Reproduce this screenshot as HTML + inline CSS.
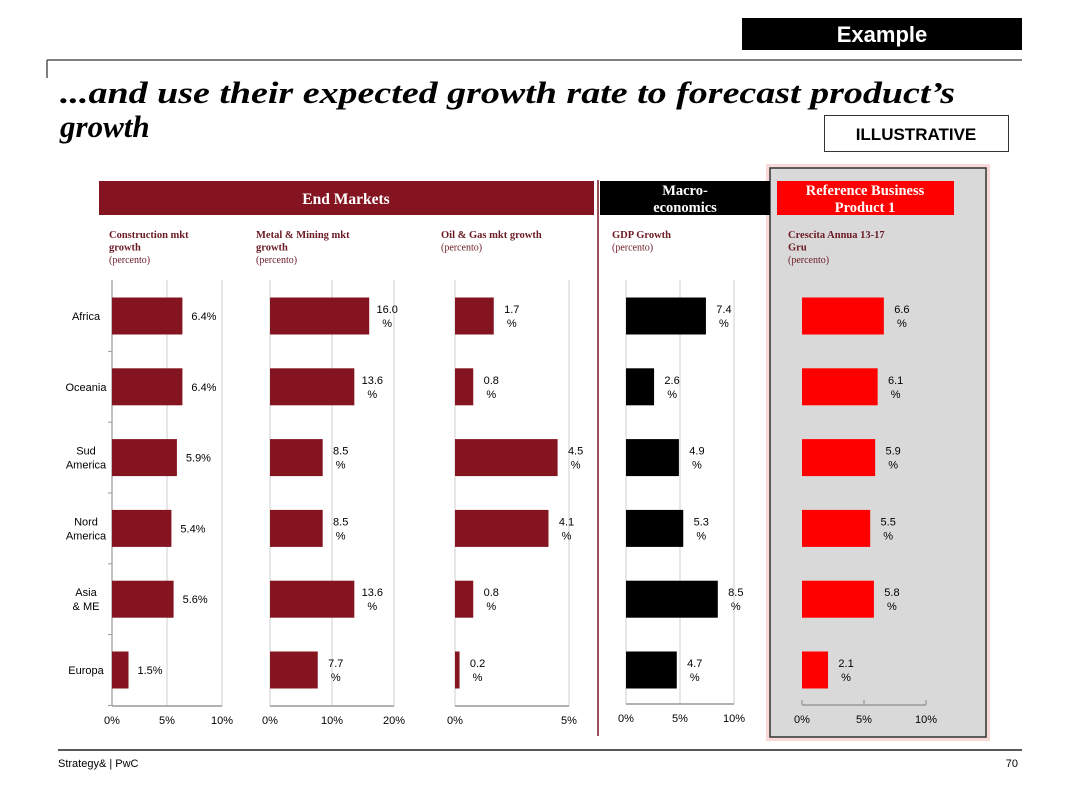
<!DOCTYPE html>
<html><head><meta charset="utf-8"><style>
html,body{margin:0;padding:0;background:#fff;}
svg{display:block;font-family:"Liberation Sans",sans-serif;}
.serif{font-family:"Liberation Serif",serif;}
</style></head><body>
<svg id="chart" width="1080" height="810" viewBox="0 0 1080 810" xmlns="http://www.w3.org/2000/svg">
<rect x="742" y="18" width="280" height="32" fill="#000"/>
<text x="882" y="42" fill="#fff" font-size="22" font-weight="bold" text-anchor="middle">Example</text>
<line x1="47" y1="60" x2="1022" y2="60" stroke="#555" stroke-width="1.5"/>
<line x1="47" y1="60" x2="47" y2="78" stroke="#555" stroke-width="1.5"/>
<text class="serif" x="60" y="103" font-size="31" font-weight="bold" font-style="italic" textLength="895" lengthAdjust="spacingAndGlyphs">...and use their expected growth rate to forecast product’s</text>
<text class="serif" x="60" y="137" font-size="31" font-weight="bold" font-style="italic">growth</text>
<rect x="824.5" y="115.5" width="184" height="36" fill="#fff" stroke="#333"/>
<text x="916" y="140" font-size="17" font-weight="bold" text-anchor="middle">ILLUSTRATIVE</text>

<rect x="766" y="164" width="224" height="577" fill="#f6c8c8" opacity="0.7"/>
<rect x="770" y="168" width="216" height="569" fill="#d9d9d9" stroke="#333" stroke-width="1.5"/>
<line x1="598" y1="180" x2="598" y2="736" stroke="#7a1520" stroke-width="1.5"/>

<rect x="99" y="181" width="495" height="34" fill="#84141f"/>
<text class="serif" x="346" y="204" font-size="15.5" font-weight="bold" fill="#fff" text-anchor="middle">End Markets</text>
<rect x="600" y="181" width="170" height="34" fill="#000"/>
<text class="serif" x="685" y="195" font-size="14.5" font-weight="bold" fill="#fff" text-anchor="middle">Macro-</text>
<text class="serif" x="685" y="212" font-size="14.5" font-weight="bold" fill="#fff" text-anchor="middle">economics</text>
<rect x="777" y="181" width="177" height="34" fill="#ff0000"/>
<text class="serif" x="865" y="195" font-size="14.5" font-weight="bold" fill="#fff" text-anchor="middle">Reference Business</text>
<text class="serif" x="865" y="212" font-size="14.5" font-weight="bold" fill="#fff" text-anchor="middle">Product 1</text>

<g id="panels"></g>

<line x1="58" y1="750" x2="1022" y2="750" stroke="#222" stroke-width="1.5"/>
<text x="58" y="767" font-size="11">Strategy&amp; | PwC</text>
<text x="1018" y="767" font-size="11" text-anchor="end">70</text>
</svg>
<script>
const regions = ["Africa","Oceania","Sud America","Nord America","Asia & ME","Europa"];
const construction = [6.4,6.4,5.9,5.4,5.6,1.5];
const metalMining = [16.0,13.6,8.5,8.5,13.6,7.7];
const oilGas = [1.7,0.8,4.5,4.1,0.8,0.2];
const gdp = [7.4,2.6,4.9,5.3,8.5,4.7];
const product = [6.6,6.1,5.9,5.5,5.8,2.1];
const constructionTicks = [0,5,10];
const metalTicks = [0,10,20];
const oilTicks = [0,5];
const gdpTicks = [0,5,10];
const productTicks = [0,5,10];

const NS="http://www.w3.org/2000/svg";
const root=document.getElementById('panels');
function mk(tag,attrs,parent){const e=document.createElementNS(NS,tag);for(const k in attrs)e.setAttribute(k,attrs[k]);(parent||root).appendChild(e);return e;}
function rowY(i){return 316+i*70.8;}

const panels=[
 {key:"construction",data:construction,ticks:constructionTicks,x0:112,x1:222,max:10,color:"#84141f",grid:true,single:true,title:["Construction  mkt","growth"],tx:109,leftAxis:true,axisY:706},
 {key:"metal",data:metalMining,ticks:metalTicks,x0:270,x1:394,max:20,color:"#84141f",grid:true,title:["Metal & Mining mkt","growth"],tx:256,axisY:706},
 {key:"oil",data:oilGas,ticks:oilTicks,x0:455,x1:569,max:5,color:"#84141f",grid:true,title:["Oil & Gas mkt growth"],tx:441,axisY:706},
 {key:"gdp",data:gdp,ticks:gdpTicks,x0:626,x1:734,max:10,color:"#000",grid:true,title:["GDP Growth"],tx:612,axisY:704},
 {key:"product",data:product,ticks:productTicks,x0:802,x1:926,max:10,color:"#ff0000",grid:false,title:["Crescita Annua 13-17","Gru"],tx:788,axisY:705}
];

panels.forEach(p=>{
  const g=mk('g',{});
  
  
  const sx=v=>p.x0+(v/p.max)*(p.x1-p.x0);
  // title
  p.title.forEach((t,j)=>{const e=mk('text',{x:p.tx,y:238+j*12.5,'font-size':10.5,'font-weight':'bold',fill:'#6b1a24','font-family':'Liberation Serif, serif'},g);e.textContent=t;});
  const st=mk('text',{x:p.tx,y:238+p.title.length*12.5,'font-size':10,fill:'#6b1a24','font-family':'Liberation Serif, serif'},g);st.textContent="(percento)";
  // grid
  p.ticks.forEach(t=>{
    if(p.grid){mk('line',{x1:sx(t),x2:sx(t),y1:280,y2:p.axisY,stroke:'#cfcfcf','stroke-width':1},g);}
    else{mk('line',{x1:sx(t),x2:sx(t),y1:p.axisY-5,y2:p.axisY,stroke:'#888'},g);}
    const tl=mk('text',{x:sx(t),y:p.axisY+18,'font-size':11,'text-anchor':'middle'},g);
    
    
    tl.textContent=t+'%';
  });
  mk('line',{x1:p.x0,x2:p.x1,y1:p.axisY,y2:p.axisY,stroke:'#999','stroke-width':1.5},g);
  if(p.leftAxis){mk('line',{x1:p.x0,x2:p.x0,y1:280,y2:p.axisY,stroke:'#999','stroke-width':1.2},g);}
  p.data.forEach((v,i)=>{
    const y=rowY(i);
    const b=mk('rect',{x:p.x0,y:y-18.5,width:sx(v)-p.x0,height:37,fill:p.color},g);
    
    
    if(p.single){
      const t=mk('text',{x:sx(v)+9,y:y+4,'font-size':11},g);t.textContent=v.toFixed(1)+'%';
      
      
    }else{
      const cx=sx(v)+18;
      const t=mk('text',{x:cx,y:y-3,'font-size':11,'text-anchor':'middle'},g);t.textContent=v.toFixed(1);
      
      
      const t2=mk('text',{x:cx,y:y+11,'font-size':11,'text-anchor':'middle'},g);t2.textContent='%';
    }
  });
});
// region labels
regions.forEach((r,i)=>{
  const y=rowY(i);
  mk('line',{x1:108,x2:112,y1:y+35.4,y2:y+35.4,stroke:'#999'});
  const parts=r==="Sud America"?["Sud","America"]:r==="Nord America"?["Nord","America"]:r==="Asia & ME"?["Asia","& ME"]:[r];
  parts.forEach((s,j)=>{
    const t=mk('text',{x:86,y:y+4+(parts.length>1?(j-0.5)*14:0),'font-size':11,'text-anchor':'middle'});
    
    
    t.textContent=s;
  });
});
</script>
</body></html>
